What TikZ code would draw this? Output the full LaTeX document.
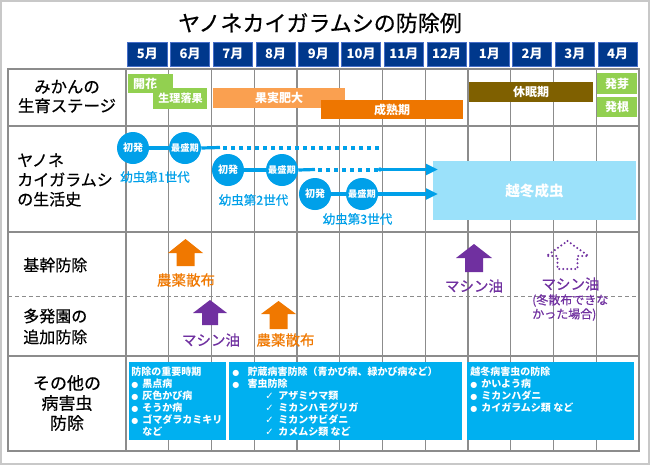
\documentclass[tikz,border=0pt]{standalone}
\usepackage{fontspec}
\usepackage{graphicx}
\setmainfont{Noto Sans CJK JP}
\newfontfamily\jpm[FakeBold=0.5]{Noto Sans CJK JP}
\newfontfamily\dvs{DejaVu Sans}
\usetikzlibrary{arrows.meta}
\definecolor{navy}{RGB}{0,56,140}
\definecolor{mblue}{RGB}{70,110,200}
\definecolor{gridc}{RGB}{140,140,140}
\definecolor{framec}{RGB}{200,200,200}
\definecolor{leafg}{RGB}{146,208,80}
\definecolor{orgL}{RGB}{250,160,80}
\definecolor{orgD}{RGB}{238,118,0}
\definecolor{brn}{RGB}{127,96,0}
\definecolor{cblue}{RGB}{0,160,233}
\definecolor{lblue}{RGB}{155,225,250}
\definecolor{boxblue}{RGB}{0,176,240}
\definecolor{purp}{RGB}{112,48,160}
\definecolor{orgA}{RGB}{240,120,0}
\newcommand\bul[1][8.25pt]{\makebox[#1][l]{\dvs\scalebox{0.8}{●}}}
\newcommand\chk{\hspace*{24.75pt}\makebox[9.75pt][l]{\dvs ✓}}
\newcommand\blockarrow[6]{(#1,#2) -- (#1+#5,#3) -- (#1+#6,#3) -- (#1+#6,#4) -- (#1-#6,#4) -- (#1-#6,#3) -- (#1-#5,#3) -- cycle}
\begin{document}
\begin{tikzpicture}[x=0.75pt,y=-0.75pt,
  gridline/.style={draw=gridc, line width=1pt},
  monthbox/.style={fill=navy, draw=mblue, line width=0.6pt, minimum width=29.6pt, minimum height=18pt, inner sep=0pt, text=white, font=\bfseries\fontsize{9.75pt}{10pt}\selectfont},
  rowlabel/.style={inner sep=0pt, font=\jpm\fontsize{12pt}{15pt}\selectfont},
  stagetext/.style={text=white, inner sep=0pt, font=\bfseries\fontsize{9pt}{9pt}\selectfont},
  gencirc/.style={circle, fill=cblue, minimum size=24pt, inner sep=0pt, text=white, font=\bfseries\fontsize{7.5pt}{8pt}\selectfont},
  genline/.style={draw=cblue, line width=2.4pt},
  gendot/.style={draw=cblue, line width=3pt, dash pattern=on 3pt off 3pt},
  genarrow/.style={draw=cblue, line width=2.4pt, -{Triangle[length=9pt,width=8pt]}},
  genlabel/.style={text=cblue, inner sep=0pt, font=\jpm\fontsize{9.4pt}{10pt}\selectfont},
  sprayo/.style={text=orgA, inner sep=0pt, font=\jpm\fontsize{10.9pt}{12pt}\selectfont},
  sprayp/.style={text=purp, inner sep=0pt, font=\jpm\fontsize{10.9pt}{12pt}\selectfont},
  infotext/.style={text=white, inner sep=0pt, align=left, anchor=north west, font=\bfseries\fontsize{7.5pt}{9pt}\selectfont}
]
\useasboundingbox (0,0) rectangle (650,465);
\fill[white] (0,0) rectangle (650,465);
\draw[framec, line width=1.2pt] (1,1) rectangle (649,464);

% title
\node[inner sep=0pt, font=\jpm\fontsize{16.5pt}{18pt}\selectfont] (title) at (320,23) {ヤノネカイガラムシの防除例};

% month header
\foreach \m [count=\i from 0] in {5,6,7,8,9,10,11,12,1,2,3,4} {
  \node[monthbox] (m\i) at (126+42.75*\i+21.4,54) {\m 月};
}

% grid
\draw[gridline] (8,69) rectangle (639,451);
\foreach \yy in {126,232,356} { \draw[gridline] (8,\yy) -- (639,\yy); }
\draw[draw=gridc, line width=0.9pt, dash pattern=on 3pt off 2.2pt] (8,296.5) -- (639,296.5);
\foreach \i in {0,...,11} { \draw[gridline] (126+42.75*\i,69) -- (126+42.75*\i,451); }

% row labels
\node[rowlabel, align=center, font=\jpm\fontsize{12.3pt}{14.3pt}\selectfont] (lab1) at (67,96.5) {みかんの\\生育ステージ};
\node[rowlabel, align=left, anchor=west, font=\jpm\fontsize{12pt}{14.6pt}\selectfont] (lab2) at (17,180) {ヤノネ\\カイガラムシ\\の生活史};
\node[rowlabel, anchor=west] (lab3) at (23,265) {基幹防除};
\node[rowlabel, align=left, anchor=west, font=\jpm\fontsize{12pt}{15.7pt}\selectfont] (lab4) at (23,326.5) {多発園の\\追加防除};
\node[rowlabel, align=center, font=\jpm\fontsize{12.75pt}{15pt}\selectfont] (lab5) at (67,403) {その他の\\病害虫\\防除};

% growth stages
\fill[leafg] (128,74) rectangle (173,93);
\node[stagetext] (kaika) at (145,83.5) {開花};
\fill[leafg] (153,88) rectangle (207,109);
\node[stagetext, font=\bfseries\fontsize{8.3pt}{9pt}\selectfont] (rakka) at (180.5,98.5) {生理落果};
\fill[orgL] (213,88) rectangle (345,108);
\node[stagetext] (hidai) at (279,98) {果実肥大};
\fill[orgD] (321,100) rectangle (463,119);
\node[stagetext] (seijuku) at (392,110) {成熟期};
\fill[brn] (469,82) rectangle (593,102);
\node[stagetext] (kyumin) at (531,92) {休眠期};
\fill[leafg] (597,73) rectangle (637,94);
\node[stagetext] (hatsuga) at (617,83.5) {発芽};
\fill[leafg] (597,97) rectangle (637,117);
\node[stagetext] (hakkon) at (617,107) {発根};

% life history
\fill[lblue] (433,161) rectangle (636,220);
\node[text=white, inner sep=0pt, font=\bfseries\fontsize{10.9pt}{12pt}\selectfont] (ettou) at (534.5,190.5) {越冬成虫};

\node[gencirc] (c1a) at (133,148) {初発};
\node[gencirc, font=\bfseries\fontsize{6.9pt}{7pt}\selectfont] (c1b) at (185,148) {最盛期};
\node[gencirc] (c2a) at (228,170) {初発};
\node[gencirc, font=\bfseries\fontsize{6.9pt}{7pt}\selectfont] (c2b) at (282,170) {最盛期};
\node[gencirc] (c3a) at (315,194) {初発};
\node[gencirc, font=\bfseries\fontsize{6.9pt}{7pt}\selectfont] (c3b) at (362,194) {最盛期};

\coordinate (g1s) at (220,147.5);
\coordinate (g1d) at (223,147.5);
\coordinate (g1e) at (382,147.5);
\coordinate (g2s) at (315,169.5);
\coordinate (g2d) at (318,169.5);
\coordinate (g2e) at (378,169.5);
\coordinate (g2a) at (380,169.5);
\coordinate (g2t) at (438,169.5);
\coordinate (g3t) at (438,194);

\draw[genline] (c1a) -- (c1b);
\draw[genline] (c1b.east) -- (g1s);
\draw[gendot] (g1d) -- (g1e);
\draw[genline] (c2a) -- (c2b);
\draw[genline] (c2b.east) -- (g2s);
\draw[gendot] (g2d) -- (g2e);
\draw[genarrow] (g2a) -- (g2t);
\draw[genline] (c3a) -- (c3b);
\draw[genarrow] (c3b.east) -- (g3t);
\fill[cblue] (g2a) circle (1.6pt);

\node[genlabel] (l1) at (155,177) {幼虫第1世代};
\node[genlabel] (l2) at (253.5,200) {幼虫第2世代};
\node[genlabel] (l3) at (357.5,219) {幼虫第3世代};

% control arrows
\fill[orgA] \blockarrow{185.5}{239}{253}{266}{17.5}{9};
\node[sprayo] (k1) at (186,280) {農薬散布};
\fill[purp] \blockarrow{474}{244}{258}{272}{18}{9};
\node[sprayp] (k2) at (474,286) {マシン油};
\draw[purp, line width=1.7pt, dash pattern=on 0pt off 3pt, line cap=round] \blockarrow{567.5}{241}{256}{269}{21}{10};
\node[sprayp] (k3) at (570.5,284) {マシン油};
\node[text=purp, inner sep=0pt, align=left, anchor=north west, font=\jpm\fontsize{9pt}{10.5pt}\selectfont] (k3n) at (532,294) {(冬散布できな\\かった場合)};

\fill[purp] \blockarrow{210}{300}{313}{325}{17}{8};
\node[sprayp] (a1) at (211,340) {マシン油};
\fill[orgA] \blockarrow{278.5}{301}{314}{329}{17.5}{9};
\node[sprayo] (a2) at (285.5,340) {農薬散布};

% other pests
\fill[boxblue] (128.5,362) rectangle (226,440);
\fill[boxblue] (229,362) rectangle (462,440);
\fill[boxblue] (467,362) rectangle (633.5,440);
\node[infotext] (t1) at (131,366.5) {防除の重要時期\\\bul 黒点病\\\bul 灰色かび病\\\bul そうか病\\\bul ゴマダラカミキリ\\\hspace*{8.25pt}など};
\node[infotext] (t2) at (232,366.5) {\bul[9.75pt] 貯蔵病害防除（青かび病、緑かび病など）\\\bul[9.75pt] 害虫防除\\\chk アザミウマ類\\\chk ミカンハモグリガ\\\chk ミカンサビダニ\\\chk カメムシ類 など};
\node[infotext] (t3) at (470,366.5) {越冬病害虫の防除\\\bul かいよう病\\\bul ミカンハダニ\\\bul カイガラムシ類 など};
\end{tikzpicture}
\end{document}
